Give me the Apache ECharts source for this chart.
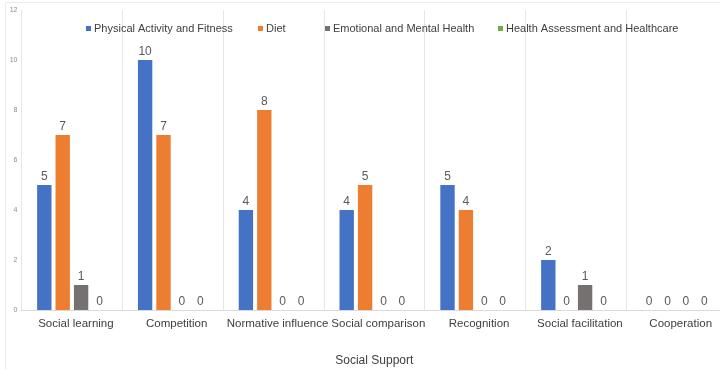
<!DOCTYPE html>
<html>
<head>
<meta charset="utf-8">
<script src="https://cdn.jsdelivr.net/npm/echarts@6/dist/echarts.min.js"></script>
<style>
  html, body { margin: 0; padding: 0; background: #fff; }
  #chart { width: 720px; height: 369px; }
</style>
</head>
<body>
<div id="chart"></div>
<script>
// Social support strategies, counted per health domain
const categories = ['Social learning', 'Competition', 'Normative influence', 'Social comparison', 'Recognition', 'Social facilitation', 'Cooperation'];
const physicalActivity = [5, 10, 4, 4, 5, 2, 0];
const diet = [7, 7, 8, 5, 4, 0, 0];
const emotionalHealth = [1, 0, 0, 0, 0, 1, 0];
const healthAssessment = [0, 0, 0, 0, 0, 0, 0];
const seriesNames = ['Physical Activity and Fitness', 'Diet', 'Emotional and Mental Health', 'Health Assessment and Healthcare'];
const seriesColors = ['#4472C4', '#ED7D31', '#767171', '#70AD47'];
const yTicks = { min: 0, max: 12, interval: 2 };

const FONT = '"Liberation Sans", Arial, sans-serif';
const chart = echarts.init(document.getElementById('chart'), null, { renderer: 'canvas' });

const seriesData = [physicalActivity, diet, emotionalHealth, healthAssessment];

// one legend entry per component so each key sits at its own spot
const legendLefts = [86, 258, 325, 498];
const legends = seriesNames.map((name, i) => ({
  top: 23,
  left: legendLefts[i],
  padding: 0,
  icon: 'rect',
  itemWidth: 5,
  itemHeight: 5,
  textStyle: { fontFamily: FONT, fontSize: 11, color: '#404040', padding: [0, 0, 0, -2] },
  data: [name]
}));

chart.setOption({
  animation: false,
  textStyle: { fontFamily: FONT },
  graphic: [{
    type: 'rect',
    shape: { x: 5.5, y: 2.5, width: 730, height: 380 },
    style: { fill: 'none', stroke: '#ececec', lineWidth: 1 },
    silent: true,
    z: -10
  }],
  legend: legends,
  grid: { left: 21.5, top: 10, width: 705.6, height: 300, containLabel: false, outerBoundsMode: 'none' },
  xAxis: {
    type: 'category',
    data: categories,
    name: 'Social Support',
    nameLocation: 'middle',
    nameGap: 45,
    nameTextStyle: { fontFamily: FONT, fontSize: 12, color: '#404040' },
    axisLine: { show: true, lineStyle: { color: '#d9d9d9', width: 1 } },
    axisTick: { show: false },
    splitLine: { show: true, interval: 0, lineStyle: { color: '#e6e6e6', width: 1 } },
    axisLabel: { interval: 0, fontFamily: FONT, fontSize: 11.5, color: '#404040', margin: 8, padding: [0, 0, 0, 8] }
  },
  yAxis: {
    type: 'value',
    min: yTicks.min,
    max: yTicks.max,
    interval: yTicks.interval,
    axisLine: { show: false },
    axisTick: { show: false },
    splitLine: { show: false },
    axisLabel: { fontFamily: FONT, fontSize: 7, color: '#8c8c8c', margin: 4 }
  },
  series: seriesNames.map((name, i) => ({
    name,
    type: 'bar',
    data: seriesData[i],
    barCategoryGap: '31%',
    barGap: '28%',
    itemStyle: { color: seriesColors[i] },
    label: {
      show: true,
      position: 'top',
      distance: 2,
      fontFamily: FONT,
      fontSize: 12,
      color: '#595959'
    }
  }))
});
</script>
</body>
</html>
